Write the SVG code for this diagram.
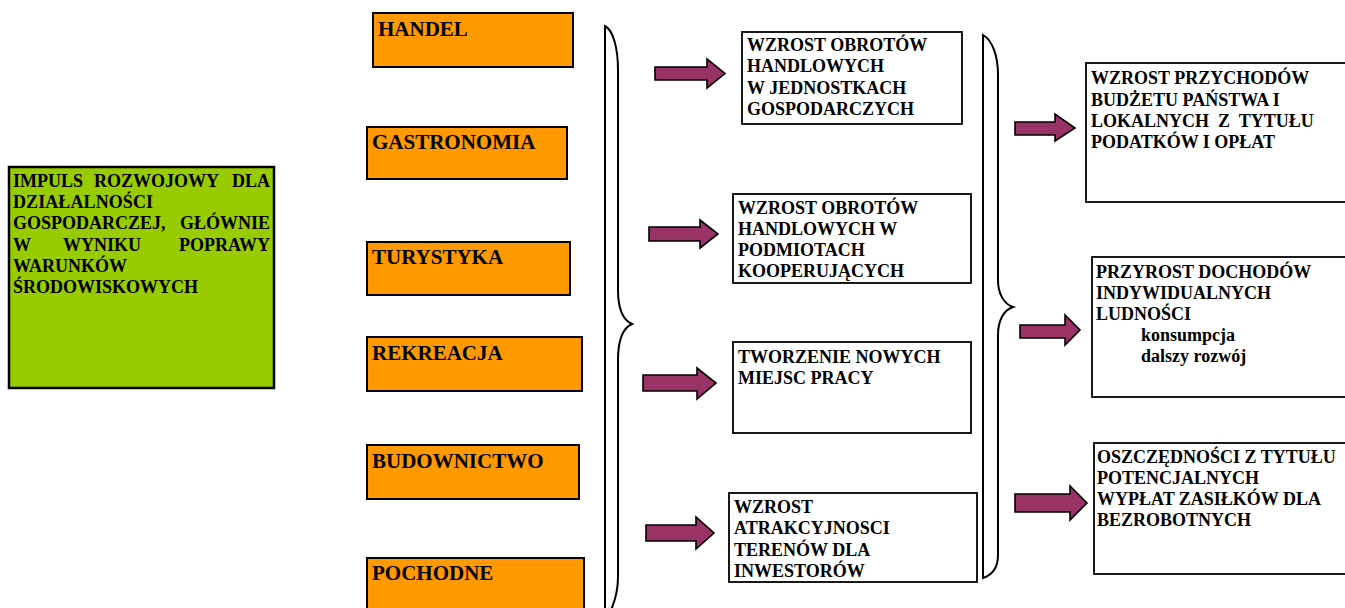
<svg xmlns="http://www.w3.org/2000/svg" width="1345" height="608" viewBox="0 0 1345 608">
<style>
text{font-family:"Liberation Serif","Times New Roman",serif;font-weight:bold;fill:#000;}
.t18{font-size:18px;}
.t21{font-size:21px;}
.green{fill:#99CC00;stroke:#000;stroke-width:2.5;}
.orange{fill:#FF9900;stroke:#000;stroke-width:2;}
.white{fill:#fff;stroke:#000;stroke-width:1.8;}
.arrow{fill:#993366;stroke:#000;stroke-width:1.6;stroke-linejoin:miter;}
.brace{fill:none;stroke:#000;stroke-width:2;}
</style>
<rect width="1345" height="608" fill="#fff"/>

<g id="impuls">
<rect class="green" x="9" y="167" width="265" height="221"/>
<text class="t18" x="13" y="187">IMPULS</text>
<text class="t18" x="94" y="187">ROZWOJOWY</text>
<text class="t18" x="270" y="187" text-anchor="end">DLA</text>
<text class="t18" x="13" y="208" textLength="140" lengthAdjust="spacing">DZIAŁALNOŚCI</text>
<text class="t18" x="13" y="229">GOSPODARCZEJ,</text>
<text class="t18" x="270" y="229" text-anchor="end">GŁÓWNIE</text>
<text class="t18" x="13" y="251">W</text>
<text class="t18" x="63" y="251">WYNIKU</text>
<text class="t18" x="270" y="251" text-anchor="end">POPRAWY</text>
<text class="t18" x="13" y="272">WARUNKÓW</text>
<text class="t18" x="13" y="293">ŚRODOWISKOWYCH</text>
</g>

<g id="handel"><rect class="orange" x="373" y="13" width="200" height="54"/><text class="t21" x="378" y="36">HANDEL</text></g>
<g id="gastronomia"><rect class="orange" x="367" y="127" width="200" height="52"/><text class="t21" x="372" y="149">GASTRONOMIA</text></g>
<g id="turystyka"><rect class="orange" x="367" y="242" width="203" height="53"/><text class="t21" x="372" y="264">TURYSTYKA</text></g>
<g id="rekreacja"><rect class="orange" x="367" y="337" width="215" height="54"/><text class="t21" x="372" y="360">REKREACJA</text></g>
<g id="budownictwo"><rect class="orange" x="367" y="445" width="212" height="54"/><text class="t21" x="372" y="468">BUDOWNICTWO</text></g>
<g id="pochodne"><rect class="orange" x="367" y="558" width="217" height="60"/><text class="t21" x="372" y="580">POCHODNE</text></g>

<g id="obroty-jednostki">
<rect class="white" x="742" y="32" width="220" height="92"/>
<text class="t18" x="747" y="51">WZROST OBROTÓW</text>
<text class="t18" x="747" y="72">HANDLOWYCH</text>
<text class="t18" x="747" y="94">W JEDNOSTKACH</text>
<text class="t18" x="747" y="115">GOSPODARCZYCH</text>
</g>
<g id="obroty-podmioty">
<rect class="white" x="733" y="194" width="238" height="89"/>
<text class="t18" x="738" y="214">WZROST OBROTÓW</text>
<text class="t18" x="738" y="235">HANDLOWYCH W</text>
<text class="t18" x="738" y="256">PODMIOTACH</text>
<text class="t18" x="738" y="277">KOOPERUJĄCYCH</text>
</g>
<g id="miejsca-pracy">
<rect class="white" x="733" y="342" width="238" height="91"/>
<text class="t18" x="738" y="363">TWORZENIE NOWYCH</text>
<text class="t18" x="738" y="384">MIEJSC PRACY</text>
</g>
<g id="atrakcyjnosc">
<rect class="white" x="729" y="493" width="248" height="89"/>
<text class="t18" x="734" y="513">WZROST</text>
<text class="t18" x="734" y="534">ATRAKCYJNOSCI</text>
<text class="t18" x="734" y="556">TERENÓW DLA</text>
<text class="t18" x="734" y="577">INWESTORÓW</text>
</g>

<g id="przychody">
<rect class="white" x="1086" y="63" width="270" height="139"/>
<text class="t18" x="1091" y="84">WZROST PRZYCHODÓW</text>
<text class="t18" x="1091" y="106">BUDŻETU PAŃSTWA I</text>
<text class="t18" x="1091" y="127" xml:space="preserve" style="white-space:pre">LOKALNYCH  Z  TYTUŁU</text>
<text class="t18" x="1091" y="148">PODATKÓW I OPŁAT</text>
</g>
<g id="dochody">
<rect class="white" x="1092" y="257" width="270" height="140"/>
<text class="t18" x="1096" y="278">PRZYROST DOCHODÓW</text>
<text class="t18" x="1096" y="299">INDYWIDUALNYCH</text>
<text class="t18" x="1096" y="320">LUDNOŚCI</text>
<text class="t18" x="1141" y="341">konsumpcja</text>
<text class="t18" x="1141" y="362">dalszy rozwój</text>
</g>
<g id="oszczednosci">
<rect class="white" x="1094" y="443" width="270" height="131"/>
<text class="t18" x="1097" y="463">OSZCZĘDNOŚCI Z TYTUŁU</text>
<text class="t18" x="1097" y="484">POTENCJALNYCH</text>
<text class="t18" x="1097" y="505">WYPŁAT ZASIŁKÓW DLA</text>
<text class="t18" x="1097" y="526">BEZROBOTNYCH</text>
</g>

<g id="connectors">
<path class="brace" d="M605,26 C613,30 618,48 618,70 L618,290 C618,308 623,320 632,324 C623,328 618,340 618,360 L618,577 C618,595 612,610 605,622 Z"/>
<path class="brace" d="M983,35 C992,40 998,55 998,75 L998,280 C998,294 1004,304 1013,307 C1004,310 998,320 998,335 L998,555 C998,568 992,575 983,578 Z"/>
<polygon class="arrow" points="655,67 707,67 707,59 725,73.5 707,88 707,80 655,80"/>
<polygon class="arrow" points="649,227 700,227 700,220 718,234 700,248 700,241 649,241"/>
<polygon class="arrow" points="643,375 697,375 697,368 716,383 697,399 697,391 643,391"/>
<polygon class="arrow" points="646,525 696,525 696,517 714,533 696,549 696,541 646,541"/>
<polygon class="arrow" points="1015,122 1055,122 1055,114 1075,128 1055,141 1055,135 1015,135"/>
<polygon class="arrow" points="1020,325 1065,325 1065,315 1080,330 1065,345 1065,338 1020,338"/>
<polygon class="arrow" points="1015,494 1070,494 1070,486 1087,503 1070,520 1070,512 1015,512"/>
</g>
</svg>
